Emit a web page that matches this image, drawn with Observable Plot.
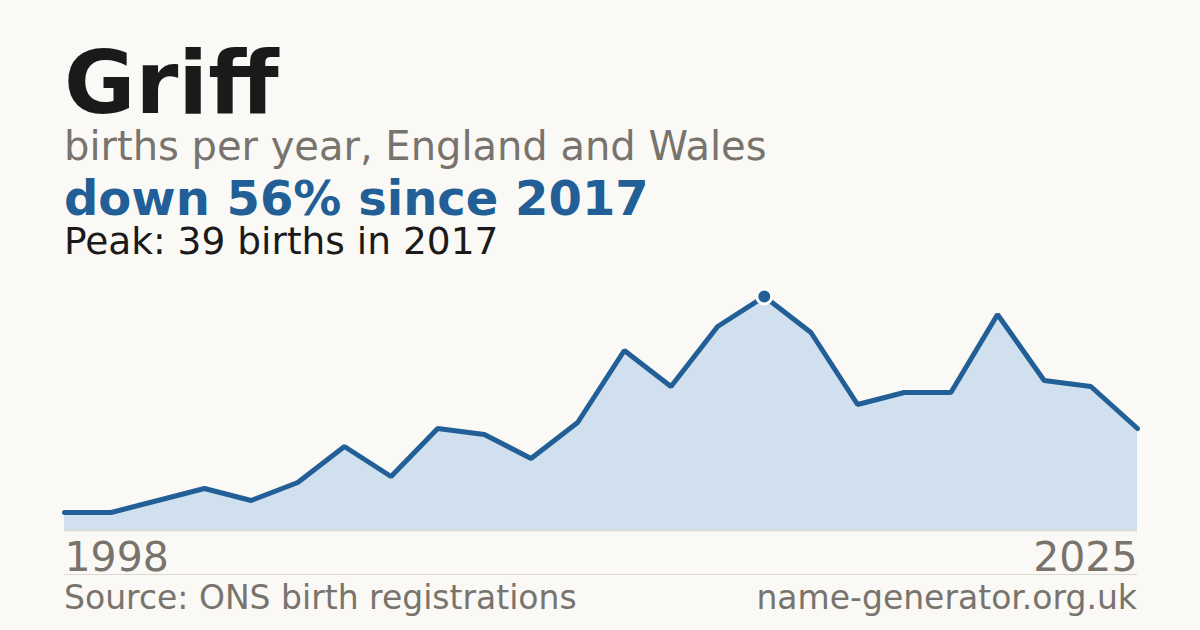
<!DOCTYPE html>
<html>
<head>
<meta charset="utf-8">
<script src="https://cdn.jsdelivr.net/npm/d3@7"></script>
<script src="https://cdn.jsdelivr.net/npm/@observablehq/plot@0.6"></script>
<style>
  html, body { margin: 0; padding: 0; }
  body { width: 1200px; height: 630px; background: #faf9f5; position: relative; overflow: hidden; font-family: "DejaVu Sans", sans-serif; }
  .t { position: absolute; left: 64px; line-height: 0.9; white-space: nowrap; }
  #title { top: 43.7px; font-size: 87px; font-weight: bold; color: #1a1a1a; }
  #sub { top: 128.2px; font-size: 40px; color: #78746d; }
  #headline { top: 176.8px; font-size: 48px; font-weight: bold; color: #215f96; }
  #peak { top: 225.2px; font-size: 37.5px; color: #1a1a1a; }
  #chart { position: absolute; left: 0; top: 280px; }
  #sep { position: absolute; left: 64px; width: 1073px; top: 573.5px; height: 1px; background: #dcd9d2; }
  .foot { position: absolute; top: 583.2px; font-size: 33px; line-height: 0.9; color: #78746d; white-space: nowrap; }
  #src { left: 64px; }
  #site { right: 63px; }
</style>
</head>
<body>
<div class="t" id="title"></div>
<div class="t" id="sub"></div>
<div class="t" id="headline"></div>
<div class="t" id="peak"></div>
<div id="chart"></div>
<div id="sep"></div>
<div class="foot" id="src"></div>
<div class="foot" id="site"></div>
<script>
const name = "Griff";
const subtitle = "births per year, England and Wales";
const headline = "down 56% since 2017";
const peakText = "Peak: 39 births in 2017";
const source = "Source: ONS birth registrations";
const site = "name-generator.org.uk";

const years = ["1998","2003","2004","2005","2006","2007","2008","2009","2010","2011","2012","2013","2014","2015","2016","2017","2018","2019","2020","2021","2022","2023","2024","2025"];
const births = [3, 3, 5, 7, 5, 8, 14, 9, 17, 16, 12, 18, 30, 24, 34, 39, 33, 21, 23, 23, 36, 25, 24, 17];
const peakYear = "2017";
const tickFirst = ["1998"];
const tickLast = ["2025"];

document.getElementById("title").textContent = name;
document.getElementById("sub").textContent = subtitle;
document.getElementById("headline").textContent = headline;
document.getElementById("peak").textContent = peakText;
document.getElementById("src").textContent = source;
document.getElementById("site").textContent = site;

const data = years.map((y, i) => ({year: y, births: births[i]}));
const peakData = data.filter(d => d.year === peakYear);

const chart = Plot.plot({
  width: 1200,
  height: 300,
  marginLeft: 64,
  marginRight: 63,
  marginTop: 16,
  marginBottom: 50,
  style: {background: "transparent", fontFamily: "DejaVu Sans, sans-serif", overflow: "visible"},
  x: {type: "point", domain: years, padding: 0, round: false},
  y: {domain: [0, 39], axis: null},
  marks: [
    Plot.areaY(data, {x: "year", y: "births", fill: "#d0e0ef"}),
    Plot.ruleY([0], {stroke: "#dcd9d2", strokeWidth: 1.5}),
    Plot.lineY(data, {x: "year", y: "births", stroke: "#215f96", strokeWidth: 5, strokeLinejoin: "miter"}),
    Plot.dot(peakData, {x: "year", y: "births", r: 7.5, fill: "#215f96", stroke: "white", strokeWidth: 3}),
    Plot.axisX({ticks: tickFirst, tickSize: 0, tickPadding: 11, fontSize: 41, fill: "#78746d", textAnchor: "start", label: null}),
    Plot.axisX({ticks: tickLast, tickSize: 0, tickPadding: 11, fontSize: 41, fill: "#78746d", textAnchor: "end", label: null})
  ]
});
document.getElementById("chart").appendChild(chart);
</script>
</body>
</html>
